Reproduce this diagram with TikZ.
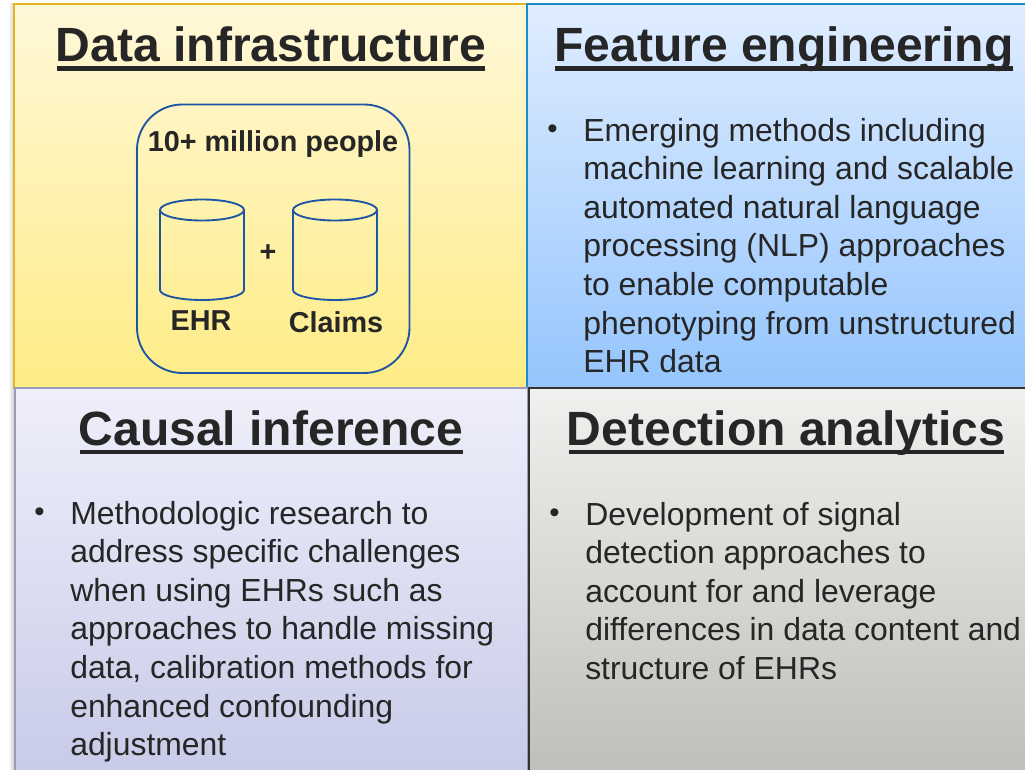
\documentclass[tikz,border=0pt]{standalone}
\usepackage{fontspec}
\setmainfont{Liberation Sans}
\definecolor{ink}{HTML}{262626}
\definecolor{cylblue}{HTML}{1F55A5}
\definecolor{yt}{HTML}{FFF8D8}\definecolor{yb}{HTML}{FEEC86}\definecolor{yl}{HTML}{E6B422}
\definecolor{bt}{HTML}{E0EDFF}\definecolor{bb}{HTML}{94C5FD}\definecolor{bl}{HTML}{1C8CC8}
\definecolor{pt}{HTML}{EFEFFA}\definecolor{pb}{HTML}{C8CBE8}\definecolor{pl}{HTML}{9A9ABE}
\definecolor{gt}{HTML}{F0F0EE}\definecolor{gb}{HTML}{BEBEBA}\definecolor{gl}{HTML}{323234}
\tikzset{
  x=0.75pt,y=-0.75pt,
  panel/.style={draw=#1,line width=1.5pt},
  titletext/.style={anchor=base,inner sep=0pt,text=ink,font=\fontsize{36.05pt}{40pt}\selectfont\bfseries},
  bodytext/.style={anchor=north west,inner sep=0pt,align=left,text=ink,font=\fontsize{23.93pt}{28.9pt}\selectfont},
  bullettext/.style={anchor=north west,inner sep=0pt,text=ink,font=\fontsize{22pt}{24pt}\selectfont},
  smalltext/.style={anchor=center,inner sep=0pt,text=ink,font=\fontsize{21.6pt}{24pt}\selectfont\bfseries},
  cyl/.style={draw=cylblue,line width=1.4pt},
  ubar/.style={draw=ink,line width=3.6pt}
}
\begin{document}
\begin{tikzpicture}
\useasboundingbox (0,0) rectangle (1025,770);
\fill[white] (0,0) rectangle (1025,770);
\shade[left color=white,right color=black!18] (8,4) rectangle (14,770);
\path[panel=yl,top color=yt,bottom color=yb] (13.5,4) rectangle (527,387.5);
\path[panel=bl,top color=bt,bottom color=bb] (527,4) rectangle (1030,388);
\path[panel=pl,top color=pt,bottom color=pb] (14.5,388) rectangle (528,775);
\path[panel=gl,top color=gt,bottom color=gb] (529,388) rectangle (1030,775);

\node[titletext] (t1) at (271,62) {Data infrastructure};
\node[titletext] (t2) at (784,62) {Feature engineering};
\node[titletext] (t3) at (271,445) {Causal inference};
\node[titletext] (t4) at (786,445) {Detection analytics};
\draw[ubar] (57,68.5) -- (485,68.5);
\draw[ubar] (555,68.5) -- (1013,68.5);
\draw[ubar] (80,452) -- (463,452);
\draw[ubar] (569,452) -- (1004,452);

\draw[draw=cylblue,line width=1.4pt,rounded corners=34pt] (137,104.5) rectangle (409.5,373);
\node[smalltext] (people) at (273,144) {10+ million people};
\draw[cyl] (160,210) -- (160,290) arc[start angle=180,end angle=0,x radius=42,y radius=10] -- (244,210);
\draw[cyl] (202,210) ellipse[x radius=42,y radius=10.5];
\draw[cyl] (293,210) -- (293,290) arc[start angle=180,end angle=0,x radius=42,y radius=10] -- (377,210);
\draw[cyl] (335,210) ellipse[x radius=42,y radius=10.5];
\node[smalltext] (plus) at (268,253) {+};
\node[smalltext] (ehr) at (201,321) {EHR};
\node[smalltext] (claims) at (336,322) {Claims};

\node[bullettext] (b2) at (547,125) {•};
\node[bodytext] (x2) at (583,118) {Emerging methods including\\machine learning and scalable\\automated natural language\\processing (NLP) approaches\\to enable computable\\phenotyping from unstructured\\EHR data};
\node[bullettext] (b3) at (34,508) {•};
\node[bodytext] (x3) at (70,501) {Methodologic research to\\address specific challenges\\when using EHRs such as\\approaches to handle missing\\data, calibration methods for\\enhanced confounding\\adjustment};
\node[bullettext] (b4) at (549,509) {•};
\node[bodytext] (x4) at (585,502) {Development of signal\\detection approaches to\\account for and leverage\\differences in data content and\\structure of EHRs};
\end{tikzpicture}
\end{document}
